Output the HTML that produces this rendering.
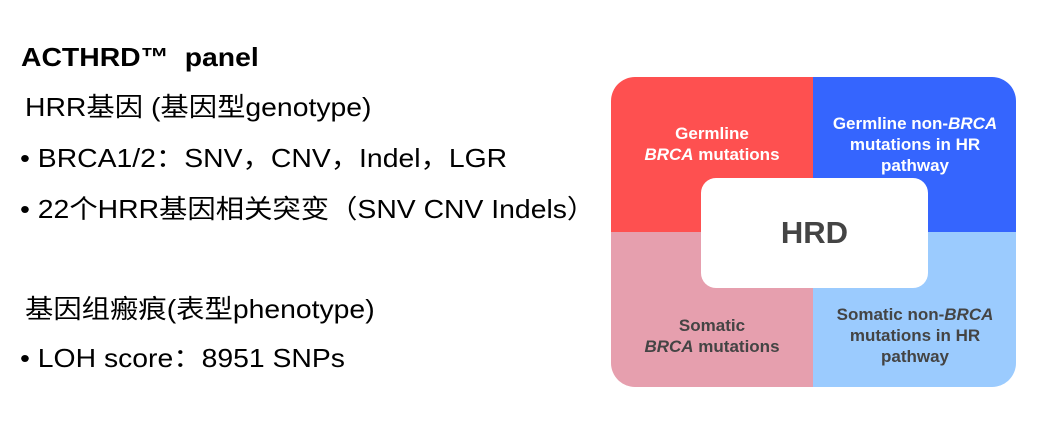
<!DOCTYPE html>
<html><head><meta charset="utf-8"><style>
body{margin:0;width:1049px;height:448px;background:#fff;position:relative;overflow:hidden;font-family:"Liberation Sans","Noto Sans CJK SC",sans-serif;}
.t{position:absolute;white-space:nowrap;color:#000;font-size:26px;line-height:30px;transform:scaleX(1.09);transform-origin:left center;}
.q{position:absolute;font-weight:bold;font-size:17px;line-height:21px;text-align:center;width:202px;}
</style></head><body>
<div class="t" style="left:21px;top:42px;font-weight:bold;">ACTHRD™&nbsp; panel</div>
<div class="t" style="left:25px;top:92px;">HRR基因 (基因型genotype)</div>
<div class="t" style="left:20px;top:143px;">• BRCA1/2：SNV，CNV，Indel，LGR</div>
<div class="t" style="left:20px;top:194px;">• 22个HRR基因相关突变（SNV CNV Indels）</div>
<div class="t" style="left:25px;top:294px;">基因组瘢痕(表型phenotype)</div>
<div class="t" style="left:20px;top:343px;">• LOH score：8951 SNPs</div>

<div style="position:absolute;left:611px;top:77px;width:405px;height:310px;border-radius:24px;overflow:hidden;">
 <div style="position:absolute;left:0;top:0;width:202px;height:155px;background:#fe5050;"></div>
 <div style="position:absolute;left:202px;top:0;width:203px;height:155px;background:#3565fe;"></div>
 <div style="position:absolute;left:0;top:155px;width:202px;height:155px;background:#e69fae;"></div>
 <div style="position:absolute;left:202px;top:155px;width:203px;height:155px;background:#9bcbfe;"></div>
</div>
<div class="q" style="left:611px;top:123px;color:#fff;">Germline<br><i>BRCA</i> mutations</div>
<div class="q" style="left:814px;top:113px;color:#fff;">Germline non-<i>BRCA</i><br>mutations in HR<br>pathway</div>
<div class="q" style="left:611px;top:315px;color:#444;">Somatic<br><i>BRCA</i> mutations</div>
<div class="q" style="left:814px;top:304px;color:#444;">Somatic non-<i>BRCA</i><br>mutations in HR<br>pathway</div>
<div style="position:absolute;left:701px;top:178px;width:227px;height:110px;background:#fff;border-radius:15px;text-align:center;line-height:110px;font-weight:bold;font-size:31px;color:#444;">HRD</div>
</body></html>
